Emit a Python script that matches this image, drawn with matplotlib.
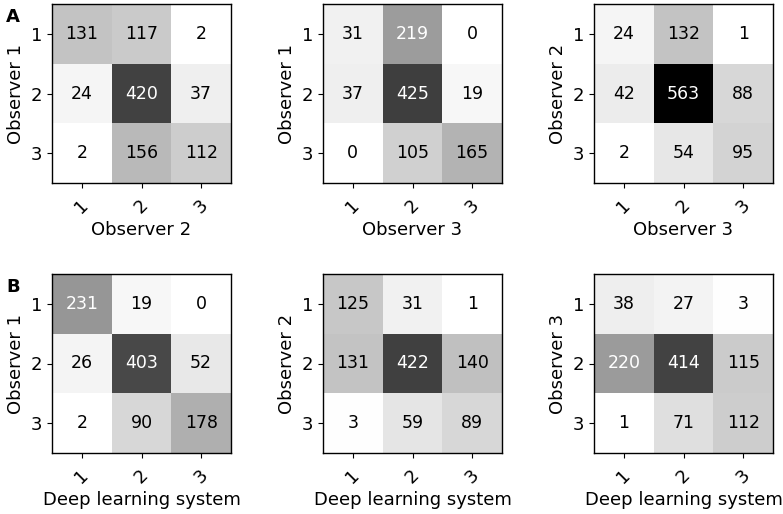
import numpy as np
import matplotlib
matplotlib.use("Agg")
import matplotlib.pyplot as plt

labels = ["1", "2", "3"]

m_o1_o2 = [[131, 117, 2], [24, 420, 37], [2, 156, 112]]
m_o1_o3 = [[31, 219, 0], [37, 425, 19], [0, 105, 165]]
m_o2_o3 = [[24, 132, 1], [42, 563, 88], [2, 54, 95]]
m_o1_dl = [[231, 19, 0], [26, 403, 52], [2, 90, 178]]
m_o2_dl = [[125, 31, 1], [131, 422, 140], [3, 59, 89]]
m_o3_dl = [[38, 27, 3], [220, 414, 115], [1, 71, 112]]

matrices = [m_o1_o2, m_o1_o3, m_o2_o3, m_o1_dl, m_o2_dl, m_o3_dl]
ylabels = ["Observer 1", "Observer 1", "Observer 2", "Observer 1", "Observer 2", "Observer 3"]
xlabels = ["Observer 2", "Observer 3", "Observer 3",
           "Deep learning system", "Deep learning system", "Deep learning system"]

vmax = max(np.max(m) for m in matrices)

fig = plt.figure(figsize=(7.83, 5.14), dpi=100)
W, H = 783, 514
lefts = [52, 323, 594]
tops = [4, 274]
size = 179

for i, (m, yl, xl) in enumerate(zip(matrices, ylabels, xlabels)):
    r, c = divmod(i, 3)
    ax = fig.add_axes([lefts[c] / W, 1 - (tops[r] + size) / H, size / W, size / H])
    a = np.array(m)
    ax.imshow(a, cmap="gray_r", vmin=0, vmax=vmax, aspect="auto")
    thresh = a.max() / 2
    for y in range(3):
        for x in range(3):
            ax.text(x, y, str(a[y, x]), ha="center", va="center", fontsize=12.5,
                    color="white" if a[y, x] > thresh else "black")
    ax.set_xticks(range(3))
    ax.set_yticks(range(3))
    ax.set_xticklabels(labels, rotation=45, fontsize=13)
    ax.set_yticklabels(labels, fontsize=13)
    ax.tick_params(axis="x", pad=6)
    ax.set_xlabel(xl, fontsize=13, labelpad=3)
    ax.set_ylabel(yl, fontsize=13, labelpad=4)
    for s in ax.spines.values():
        s.set_linewidth(1.0)

fig.text(6 / W, 1 - 17 / H, "A", fontsize=13, fontweight="bold", va="center")
fig.text(6 / W, 1 - 287 / H, "B", fontsize=13, fontweight="bold", va="center")

fig.savefig("out.png", dpi=100)
